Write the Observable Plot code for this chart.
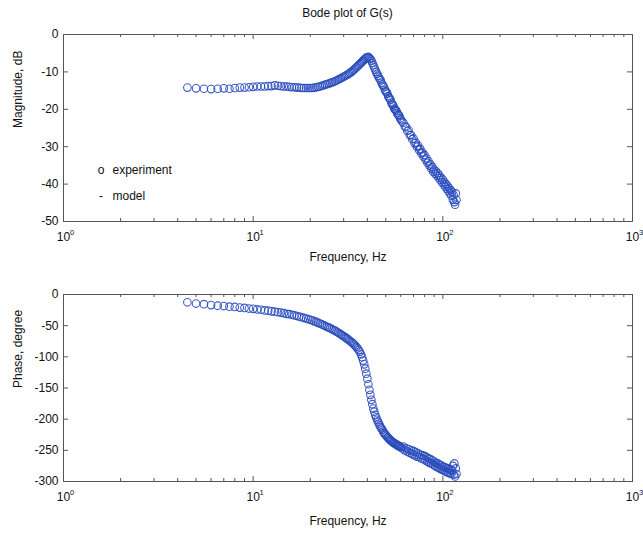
<!DOCTYPE html>
<html>
<head>
<meta charset="utf-8">
<script src="https://cdn.jsdelivr.net/npm/d3@7"></script>
<script src="https://cdn.jsdelivr.net/npm/@observablehq/plot@0.6"></script>
<style>
  html, body { margin: 0; padding: 0; background: #fff; }
  body { width: 643px; height: 537px; position: relative; overflow: hidden; font-family: "Liberation Sans", Arial, sans-serif; }
  #title { position: absolute; left: 63px; top: 6px; width: 569px; text-align: center; font-size: 12px; color: #111; line-height: 14px; }
  #p1 { position: absolute; left: 0; top: 24px; }
  #p2 { position: absolute; left: 0; top: 268px; }
</style>
</head>
<body>
<div id="title">Bode plot of G(s)</div>
<div id="p1"></div>
<div id="p2"></div>
<script>
// Frequencies (Hz)
const freq = [4.5,5,5.5,6,6.5,7,7.5,8,8.5,9,9.5,10,10.5,11,11.5,12,12.5,13,13.5,14,14.5,15,15.5,16,16.5,17,17.5,18,18.5,19,19.5,20,
  20.5,21,21.5,22,22.5,23,23.5,24,24.5,25,25.5,26,26.5,27,27.5,28,28.5,29,29.5,30,
  30.5,31,31.5,32,32.5,33,33.5,34,34.5,35,35.5,36,36.5,37,37.5,38,38.5,39,39.5,40,
  40.5,41,41.5,42,42.5,43,43.5,44,44.5,45,45.5,46,46.5,47,47.5,48,48.5,49,49.5,50,
  50.5,51,51.5,52,52.5,53,53.5,54,54.5,55,55.5,56,56.5,57,57.5,58,58.5,59,59.5,60,
  61,62,63,64,65,66,67,68,69,70,71,72,73,74,75,76,77,78,79,80,
  81,82,83,84,85,86,87,88,89,90,91,92,93,94,95,96,97,98,99,100,
  101,102,103,104,105,106,107,108,109,110,111,112,113,114,115,116,117,118];

// Magnitude, dB (experiment)
const magnitude = [-14.2,-14.4,-14.5,-14.6,-14.5,-14.4,-14.5,-14.3,-14.2,-14.2,-14.1,-14.0,-13.9,-13.9,-13.9,-13.8,-13.8,-13.6,-13.7,-13.8,-13.9,-13.9,-14.0,-14.1,-14.1,-14.2,-14.2,-14.3,-14.3,-14.3,-14.3,-14.3,
  -14.3,-14.2,-14.1,-14.0,-13.9,-13.7,-13.6,-13.4,-13.3,-13.1,-13.0,-12.8,-12.7,-12.5,-12.3,-12.1,-11.9,-11.7,-11.5,-11.3,
  -11.1,-10.9,-10.7,-10.5,-10.2,-10.0,-9.7,-9.4,-9.1,-8.8,-8.5,-8.2,-7.9,-7.6,-7.3,-7.0,-6.7,-6.5,-6.2,-6.1,
  -6.0,-6.3,-6.6,-7.0,-7.6,-8.2,-8.8,-9.4,-10.0,-10.5,-11.0,-11.5,-11.9,-12.2,-12.9,-13.4,-13.7,-14.1,-14.8,-15.2,
  -15.4,-15.8,-16.5,-16.9,-17.1,-17.5,-18.2,-18.6,-18.8,-19.2,-19.8,-20.1,-20.2,-20.5,-21.1,-21.4,-21.5,-21.8,-22.4,-22.7,
  -23.3,-23.6,-24.6,-24.7,-25.8,-25.6,-26.9,-26.9,-28.0,-27.8,-29.1,-28.9,-30.0,-29.7,-30.9,-30.6,-31.8,-31.5,-32.6,-32.2,
  -33.5,-33.1,-34.3,-33.9,-35.1,-34.7,-35.9,-35.4,-36.7,-36.1,-37.2,-36.6,-37.7,-37.1,-38.3,-37.7,-38.9,-38.3,-39.5,-38.8,
  -40.1,-39.5,-40.7,-40.0,-41.3,-40.5,-41.9,-41.1,-42.5,-41.6,-43.1,-42.1,-44.2,-43.0,-44.8,-45.5,-42.5,-44.2];

// Phase, degree (experiment)
const phase = [-12.5,-14.5,-15.5,-17,-18,-18.5,-19.5,-20,-21,-21.5,-22.5,-23,-24,-24.5,-25.5,-26,-27,-27.5,-28.5,-29,-30,-31,-31.5,-32.5,-33.5,-34.5,-35.5,-36.5,-37.5,-38.5,-39.5,-40.5,
  -41.5,-43,-44,-45.5,-46.5,-48,-49,-50.5,-52,-53,-54,-55.5,-57,-58,-59.5,-61,-62.5,-64,-65.5,-67,
  -68.5,-70,-71.5,-73,-75,-76.5,-78,-80,-82,-84,-86.5,-89,-92,-96,-100.5,-106,-112,-119,-127,-135,
  -144,-153,-161,-169,-176,-183,-188,-193,-197,-201,-204,-207,-210,-213,-215,-217,-220,-222,-224,-225,
  -227,-229,-230,-231,-233,-234,-235,-236,-237,-238,-239,-239,-240,-241,-242,-242,-243,-244,-244,-245,
  -247,-244,-250,-247,-252,-248,-254,-250,-256,-251,-258,-253,-260,-255,-261,-257,-263,-258,-264,-259,
  -266,-261,-268,-263,-270,-264,-271,-266,-273,-268,-275,-270,-277,-271,-278,-273,-280,-274,-281,-276,
  -282,-277,-284,-278,-285,-279,-286,-280,-287,-281,-288,-283,-275,-289,-271,-292,-279,-288];

// Axis ticks
const xMajor = [1, 10, 100, 1000];
const xMinor = [2,3,4,5,6,7,8,9,20,30,40,50,60,70,80,90,200,300,400,500,600,700,800,900];
const magTicks = [0, -10, -20, -30, -40, -50];
const phaseTicks = [0, -50, -100, -150, -200, -250, -300];

// Legend entries
const legendSymbols = ["o", "-"];
const legendLabels = ["experiment", "model"];

const magData = freq.map((f, i) => ({f, v: magnitude[i]}));
const phaseData = freq.map((f, i) => ({f, v: phase[i]}));

const FW = 569, FH = 187;
const markColor = "#2a4bbd";
const axisColor = "#555";
const textColor = "#111";

function legendMarks() {
  return [
    Plot.text([legendSymbols[0]], {frameAnchor: "top-left", dx: 37.5, dy: 131, text: d => d, fontSize: 12, fill: textColor, textAnchor: "middle"}),
    Plot.text([legendLabels[0]], {frameAnchor: "top-left", dx: 49, dy: 131, text: d => d, fontSize: 12, fill: textColor, textAnchor: "start"}),
    Plot.text([legendSymbols[1]], {frameAnchor: "top-left", dx: 37.5, dy: 157, text: d => d, fontSize: 12, fill: textColor, textAnchor: "middle"}),
    Plot.text([legendLabels[1]], {frameAnchor: "top-left", dx: 49, dy: 157, text: d => d, fontSize: 12, fill: textColor, textAnchor: "start"})
  ];
}

function panel(opts) {
  return Plot.plot({
    width: 643,
    height: opts.height,
    marginLeft: 63,
    marginRight: 11,
    marginTop: opts.marginTop,
    marginBottom: opts.marginBottom,
    x: {type: "log", domain: [1, 1000], axis: null},
    y: {domain: opts.yDomain, axis: null},
    style: {fontFamily: "'Liberation Sans', Arial, sans-serif", fontSize: "12px", color: textColor, background: "#fff", overflow: "visible"},
    marks: [
      Plot.frame({stroke: axisColor, strokeWidth: 1}),
      Plot.tickX(xMajor, {x: d => d, insetTop: FH - 5, stroke: axisColor}),
      Plot.tickX(xMajor, {x: d => d, insetBottom: FH - 5, stroke: axisColor}),
      Plot.tickX(xMinor, {x: d => d, insetTop: FH - 3, stroke: axisColor}),
      Plot.tickX(xMinor, {x: d => d, insetBottom: FH - 3, stroke: axisColor}),
      Plot.tickY(opts.yTicks, {y: d => d, insetRight: FW - 5, stroke: axisColor}),
      Plot.tickY(opts.yTicks, {y: d => d, insetLeft: FW - 5, stroke: axisColor}),
      Plot.axisY({ticks: opts.yTicks, tickSize: 0, tickPadding: 5, tickFormat: d => String(d), label: null, fontSize: 12, fill: textColor}),
      Plot.dot(opts.data, {x: "f", y: "v", r: 3.8, stroke: markColor, strokeWidth: 1.1, fill: "none", strokeOpacity: 0.9}),
      Plot.text(xMajor, {x: d => d, frameAnchor: "bottom", dy: 19, text: () => "10", fontSize: 12, fill: textColor}),
      Plot.text(xMajor, {x: d => d, frameAnchor: "bottom", dy: 13, dx: 8.5, text: d => String(Math.round(Math.log10(d))), fontSize: 7.5, fill: textColor}),
      Plot.text([opts.yLabel], {frameAnchor: "left", dx: -45, rotate: -90, text: d => d, fontSize: 12, fill: textColor}),
      Plot.text(["Frequency, Hz"], {frameAnchor: "bottom", dy: opts.xLabelDy, text: d => d, fontSize: 12, fill: textColor}),
      ...(opts.legend ? legendMarks() : [])
    ]
  });
}

document.getElementById("p1").appendChild(panel({
  data: magData, yDomain: [-50, 0], yTicks: magTicks, yLabel: "Magnitude, dB",
  height: 244, marginTop: 10, marginBottom: 47, xLabelDy: 39, legend: true
}));
document.getElementById("p2").appendChild(panel({
  data: phaseData, yDomain: [-300, 0], yTicks: phaseTicks, yLabel: "Phase, degree",
  height: 269, marginTop: 26, marginBottom: 56, xLabelDy: 43, legend: false
}));
</script>
</body>
</html>
